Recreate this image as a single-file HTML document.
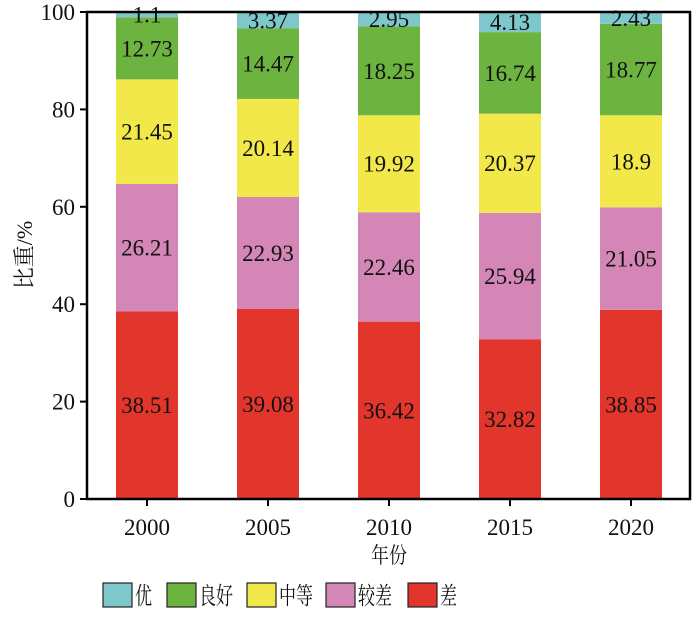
<!DOCTYPE html>
<html><head><meta charset="utf-8"><style>
body{margin:0;background:#fff;}
svg text{font-family:"Liberation Serif","Noto Serif CJK SC",serif;fill:#111;}
</style></head><body>
<svg width="700" height="615">
<g id="bars"></g>
<g id="axes"></g>
<g id="legend"></g>
</svg>
<script>
const years=["2000","2005","2010","2015","2020"];
const cha=[38.51,39.08,36.42,32.82,38.85];
const jiaocha=[26.21,22.93,22.46,25.94,21.05];
const zhongdeng=[21.45,20.14,19.92,20.37,18.9];
const lianghao=[12.73,14.47,18.25,16.74,18.77];
const you=[1.1,3.37,2.95,4.13,2.43];
const yTicks=[0,20,40,60,80,100];
const seriesNames=["差","较差","中等","良好","优"];
const seriesData=[cha,jiaocha,zhongdeng,lianghao,you];
const colors=["#e2362c","#d486b7","#f2e84a","#6db33f","#7ec8cb"];
const NS="http://www.w3.org/2000/svg";
const L=87,R=690,T=12,B=499;
const y=v=>B-(v/100)*(B-T);
const xc=i=>147+i*121;
const bw=62;
function mk(tag,attrs,parent,txt){const e=document.createElementNS(NS,tag);for(const k in attrs)e.setAttribute(k,attrs[k]);if(txt!==undefined)e.textContent=txt;parent.appendChild(e);return e;}
const gb=document.getElementById('bars');
years.forEach((yr,i)=>{let base=0;
seriesData.forEach((s,j)=>{const v=s[i];
const r=mk('rect',{x:xc(i)-bw/2,y:y(base+v),width:bw,height:y(base)-y(base+v),fill:colors[j]},gb);


const t=mk('text',{x:xc(i),y:(y(base)+y(base+v))/2+8,'text-anchor':'middle','font-size':23},gb,String(v));


base+=v;});});
const ga=document.getElementById('axes');
mk('rect',{x:L,y:T,width:R-L,height:B-T,fill:'none',stroke:'#000','stroke-width':2.5},ga);
yTicks.forEach(v=>{mk('line',{x1:L-7,x2:L,y1:y(v),y2:y(v),stroke:'#000','stroke-width':2},ga);
const t=mk('text',{x:L-12,y:y(v)+8,'text-anchor':'end','font-size':23},ga,String(v));

});
years.forEach((yr,i)=>{mk('line',{x1:xc(i),x2:xc(i),y1:B,y2:B+7,stroke:'#000','stroke-width':2},ga);
const t=mk('text',{x:xc(i),y:B+36,'text-anchor':'middle','font-size':23},ga,yr);

});
const xt=mk('text',{x:389,y:563,'text-anchor':'middle','font-size':22,textLength:36,lengthAdjust:'spacingAndGlyphs'},ga,'年份');


const yt=mk('text',{x:32,y:255,'text-anchor':'middle','font-size':22,transform:'rotate(-90 32 255)'},ga,'比重/%');


const gl=document.getElementById('legend');
const legOrder=[4,3,2,1,0];const legX=[103,167,247,326,408];
legOrder.forEach((j,k)=>{const g=mk('g',{},gl);


mk('rect',{x:legX[k],y:583,width:29,height:24,fill:colors[j],stroke:'#222','stroke-width':1.2},g);
const nm=seriesNames[j];
mk('text',{x:legX[k]+32,y:604,'font-size':24,textLength:nm.length*17,lengthAdjust:'spacingAndGlyphs'},g,nm);});
</script>
</body></html>
